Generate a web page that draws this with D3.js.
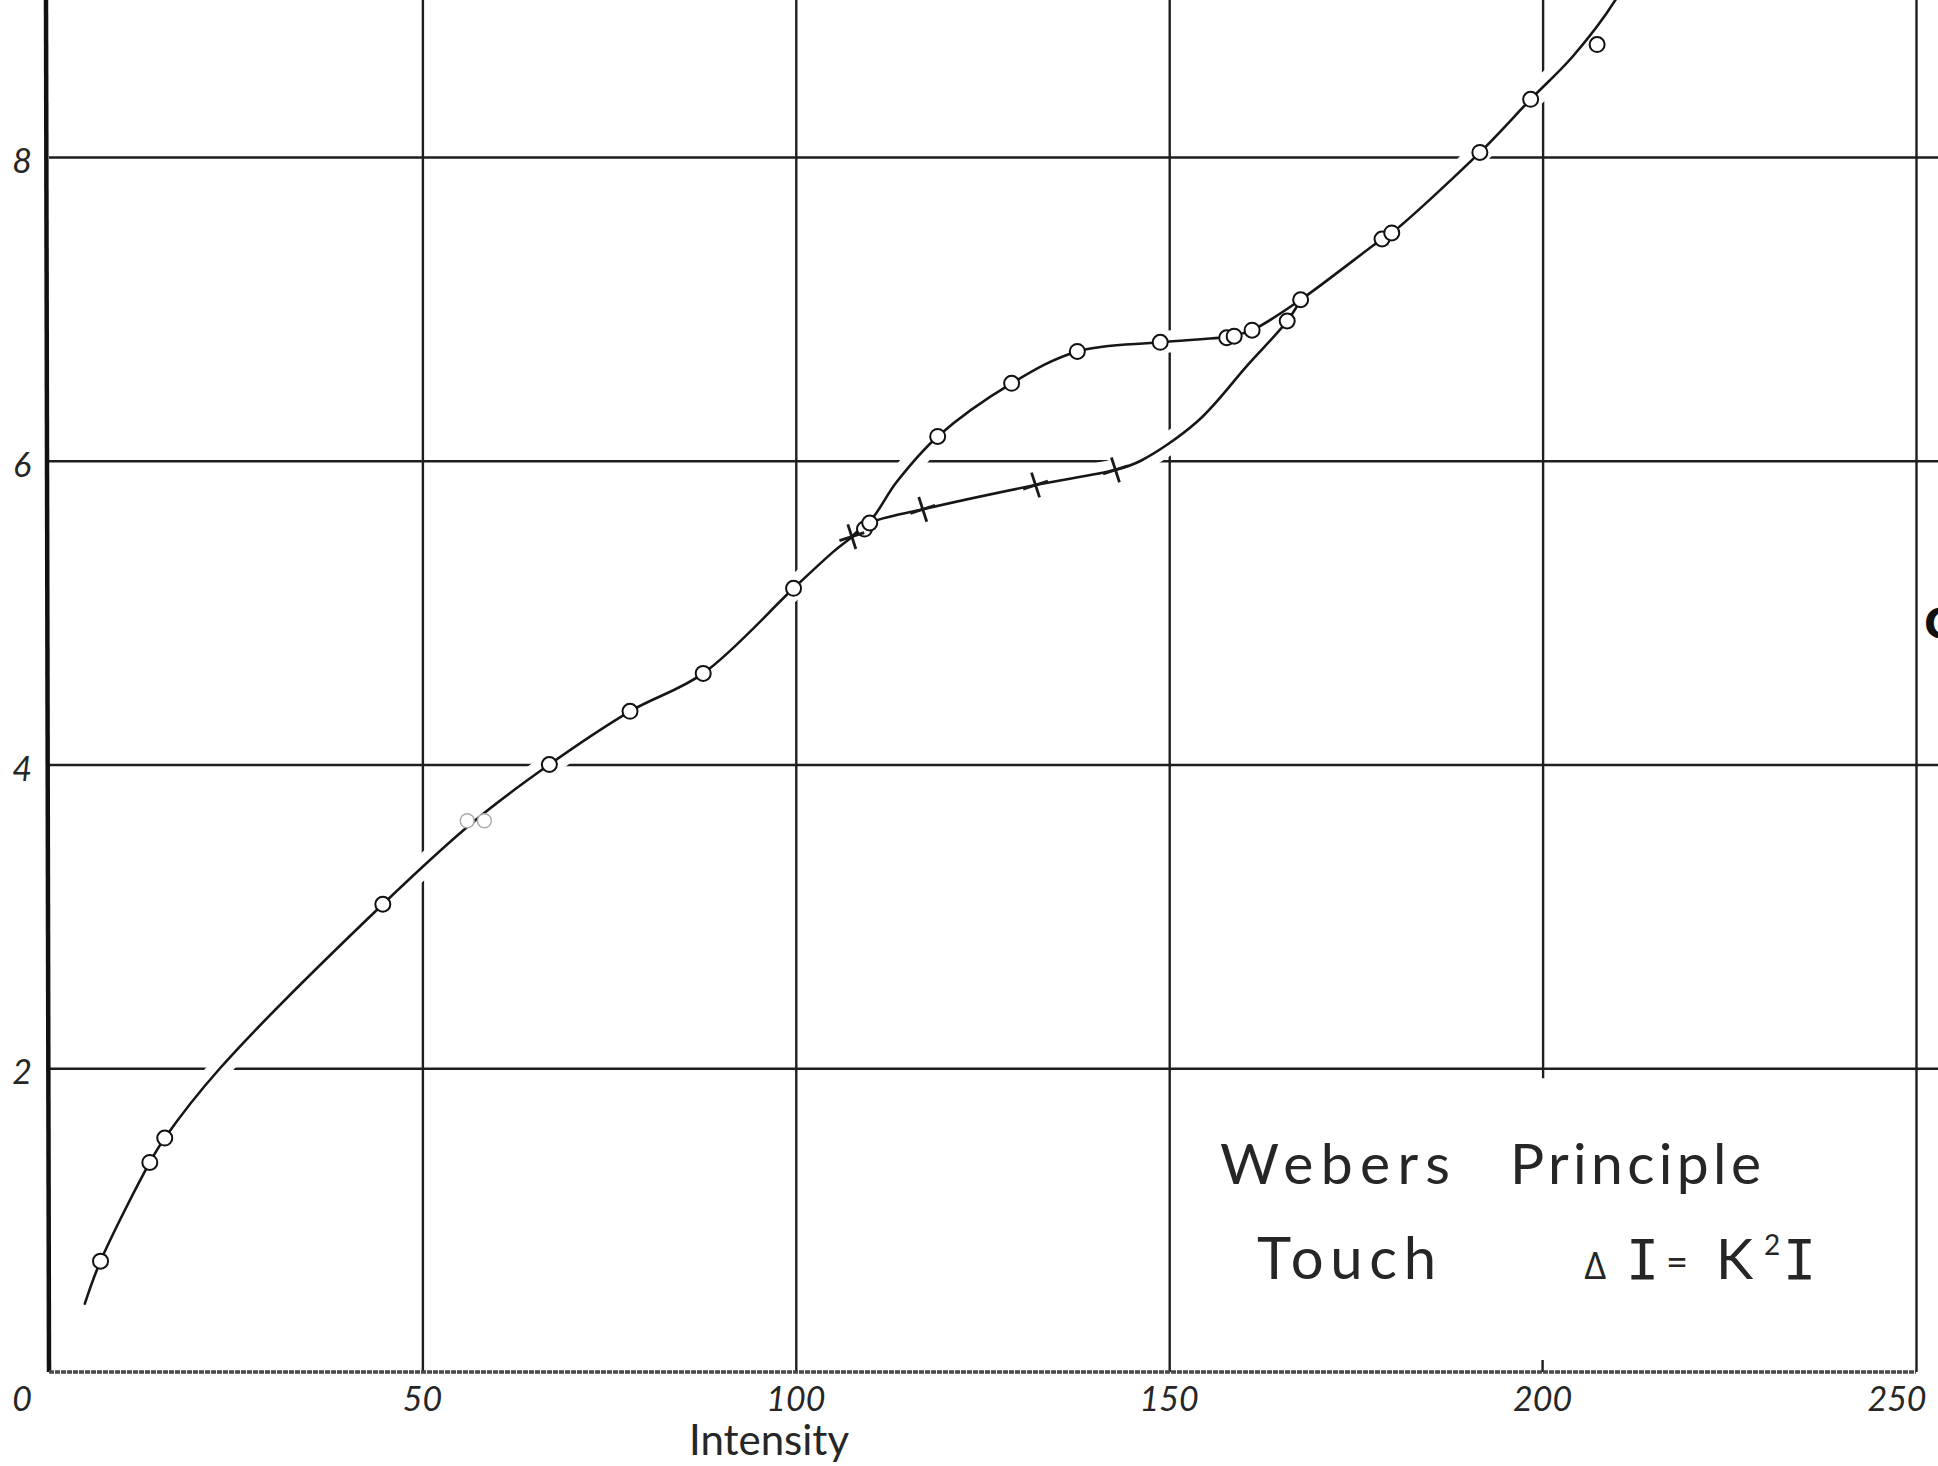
<!DOCTYPE html>
<html>
<head>
<meta charset="utf-8">
<script src="https://cdn.jsdelivr.net/npm/d3@7"></script>
<style>
  html, body { margin: 0; padding: 0; background: #fff; }
  svg { display: block; }
  .hand { font-family: Lato, "Open Sans", sans-serif; font-weight: 400; fill: #262626; }
  .serif { font-family: "DejaVu Sans Mono", monospace; fill: #262626; }
</style>
</head>
<body>
<svg id="chart"></svg>
<script>
// values
const xTicks = [0, 50, 100, 150, 200, 250];
const yTicks = [2, 4, 6, 8];

// circles (open points)
const circlePoints = [
  [6.9, 0.73], [13.5, 1.38], [15.5, 1.54], [44.7, 3.08], [67, 4.0],
  [77.8, 4.35], [87.6, 4.6], [99.7, 5.16], [109.2, 5.55], [109.9, 5.59],
  [119, 6.16], [128.9, 6.51], [137.7, 6.72], [148.8, 6.78], [157.7, 6.81],
  [158.7, 6.82], [161.1, 6.86], [165.8, 6.92], [167.6, 7.06], [178.5, 7.46],
  [179.8, 7.5], [191.6, 8.03], [198.4, 8.38], [207.3, 8.74]
];
// the two faint, half erased circles
const faintPoints = [[56, 3.63], [58.3, 3.63]];
// crosses on the lower branch
const crossPoints = [[107.5, 5.5], [117, 5.68], [132.1, 5.84], [142.8, 5.94]];

// hand drawn curve, main run + upper branch + top
const mainCurve = [
  [4.8, 0.45], [6.9, 0.73], [13.5, 1.38], [15.5, 1.54], [22.9, 2.0],
  [44.7, 3.08], [57, 3.63], [67, 4.0], [77.8, 4.35], [87.6, 4.6],
  [99.7, 5.16], [105, 5.4], [109.9, 5.6], [113.5, 5.86], [119, 6.16],
  [128.9, 6.51], [137.7, 6.72], [148.8, 6.78], [158.2, 6.82], [161.1, 6.86],
  [167.6, 7.06], [178.5, 7.46], [179.8, 7.5], [191.6, 8.03], [198.4, 8.38],
  [204, 8.66], [209.7, 9.03], [211.5, 9.2]
];
// lower branch through the crosses
const lowerCurve = [
  [107.5, 5.5], [109.9, 5.59], [117, 5.68], [132.1, 5.84], [142.8, 5.94],
  [146.2, 6.0], [153.8, 6.26], [160.5, 6.63], [165.8, 6.92], [167.6, 7.06]
];

const width = 1938;
const height = 1466;

const svg = d3.select("#chart")
  .attr("width", width)
  .attr("height", height);

// Scales
const x = d3.scaleLinear().domain([0, 250]).range([49, 1916]);
const y = d3.scaleLinear().domain([0, 8]).range([1372, 157]);

// vertical grid lines (250 is the right border)
svg.append("g")
  .attr("transform", `translate(0,${y(0)})`)
  .call(d3.axisBottom(x).tickValues(xTicks.slice(1)).tickSize(-y(0)).tickFormat(""))
  .call(g => g.select(".domain").remove())
  .selectAll(".tick line")
  .attr("stroke", "#1e1e1e")
  .attr("stroke-width", 2.4)
  // the 200 line was never drawn below the 2 line, only stubs
  .filter(d => d === 200)
  .attr("y1", -(y(0) - y(2)) + 10);

svg.append("line")
  .attr("x1", x(200)).attr("x2", x(200))
  .attr("y1", y(0) - 12).attr("y2", y(0))
  .attr("stroke", "#1e1e1e")
  .attr("stroke-width", 2.4);

// horizontal grid lines run out to the edge of the sheet
svg.append("g")
  .attr("transform", `translate(${x(0)},0)`)
  .call(d3.axisRight(y).tickValues(yTicks).tickSize(width - x(0)).tickFormat(""))
  .call(g => g.select(".domain").remove())
  .selectAll(".tick line")
  .attr("stroke", "#1e1e1e")
  .attr("stroke-width", 2.4);

// Curves
const line = d3.line()
  .x(d => x(d[0]))
  .y(d => y(d[1]))
  .curve(d3.curveCatmullRom.alpha(0.5));

// white halo opens the grid where the pencil crossed it
[mainCurve, lowerCurve].forEach(c => {
  svg.append("path")
    .attr("d", line(c))
    .attr("fill", "none")
    .attr("stroke", "#fff")
    .attr("stroke-width", 22);
});

// left axis, heavy pen line
svg.append("line")
  .attr("x1", x(0) - 3).attr("x2", x(0))
  .attr("y1", 0).attr("y2", y(0))
  .attr("stroke", "#111")
  .attr("stroke-width", 4.5);

// bottom axis, grainy
svg.append("line")
  .attr("x1", x(0)).attr("x2", x(250))
  .attr("y1", y(0)).attr("y2", y(0))
  .attr("stroke", "#4a4a4a")
  .attr("stroke-width", 3.5)
  .attr("stroke-dasharray", "5 1");

[mainCurve, lowerCurve].forEach(c => {
  svg.append("path")
    .attr("d", line(c))
    .attr("fill", "none")
    .attr("stroke", "#161616")
    .attr("stroke-width", 2.6)
    .attr("stroke-linecap", "round");
});

// Points
svg.selectAll(".pt")
  .data(circlePoints)
  .enter()
  .append("circle")
  .attr("class", "pt")
  .attr("cx", d => x(d[0]))
  .attr("cy", d => y(d[1]))
  .attr("r", 7.5)
  .attr("fill", "#fff")
  .attr("stroke", "#111")
  .attr("stroke-width", 2);

svg.selectAll(".faint")
  .data(faintPoints)
  .enter()
  .append("circle")
  .attr("class", "faint")
  .attr("cx", d => x(d[0]))
  .attr("cy", d => y(d[1]))
  .attr("r", 7)
  .attr("fill", "#fff")
  .attr("stroke", "#aaa")
  .attr("stroke-width", 1.4);

const cross = svg.selectAll(".cross")
  .data(crossPoints)
  .enter()
  .append("g")
  .attr("class", "cross")
  .attr("transform", d => `translate(${x(d[0])},${y(d[1])}) rotate(-18)`);
cross.append("line")
  .attr("x1", -13).attr("x2", 13).attr("y1", 0).attr("y2", 0);
cross.append("line")
  .attr("x1", 0).attr("x2", 0).attr("y1", -13).attr("y2", 13);
cross.selectAll("line")
  .attr("stroke", "#1a1a1a")
  .attr("stroke-width", 2.8);

// Tick labels
svg.selectAll(".xlab")
  .data(xTicks)
  .enter()
  .append("text")
  .attr("class", "hand xlab")
  .attr("x", (d, i) => x(d) + (i === 0 ? -27 : i === xTicks.length - 1 ? -19 : 0))
  .attr("y", 1411)
  .attr("text-anchor", "middle")
  .attr("font-size", 34)
  .attr("font-style", "italic")
  .text(d => d);

svg.selectAll(".ylab")
  .data(yTicks)
  .enter()
  .append("text")
  .attr("class", "hand ylab")
  .attr("x", 22)
  .attr("y", d => y(d) + 16)
  .attr("text-anchor", "middle")
  .attr("font-size", 34)
  .attr("font-style", "italic")
  .text(d => d);

// Axis label
svg.append("text")
  .attr("class", "hand")
  .attr("x", 769)
  .attr("y", 1455)
  .attr("text-anchor", "middle")
  .attr("font-size", 42)
  .text("Intensity");

// Title block
svg.append("text")
  .attr("class", "hand")
  .attr("x", 1220).attr("y", 1184)
  .attr("font-size", 57)
  .attr("textLength", 230)
  .attr("lengthAdjust", "spacing")
  .text("Webers");

svg.append("text")
  .attr("class", "hand")
  .attr("x", 1510).attr("y", 1184)
  .attr("font-size", 57)
  .attr("textLength", 251)
  .attr("lengthAdjust", "spacing")
  .text("Principle");

svg.append("text")
  .attr("class", "hand")
  .attr("x", 1257).attr("y", 1279)
  .attr("font-size", 58)
  .attr("textLength", 179)
  .attr("lengthAdjust", "spacing")
  .text("Touch");

// ΔI = K²I, each glyph set where it was lettered
const formula = svg.append("text")
  .attr("y", 1279);
formula.append("tspan").attr("class", "hand").attr("x", 1584).attr("font-size", 38).text("\u2206");
formula.append("tspan").attr("class", "serif").attr("x", 1626).attr("font-size", 55).text("I");
formula.append("tspan").attr("class", "hand").attr("x", 1666).attr("dy", -3).attr("font-size", 38).text("=");
formula.append("tspan").attr("class", "hand").attr("x", 1716).attr("dy", 3).attr("font-size", 56).text("K");
formula.append("tspan").attr("class", "hand").attr("x", 1764).attr("dy", -24).attr("font-size", 28).text("2");
formula.append("tspan").attr("class", "serif").attr("x", 1783).attr("dy", 24).attr("font-size", 55).text("I");

// cut off letter of the right hand label
svg.append("text")
  .attr("x", 1924).attr("y", 638)
  .attr("font-family", "DejaVu Sans")
  .attr("font-weight", "bold")
  .attr("font-size", 40)
  .attr("fill", "#111")
  .text("C");
</script>
</body>
</html>
